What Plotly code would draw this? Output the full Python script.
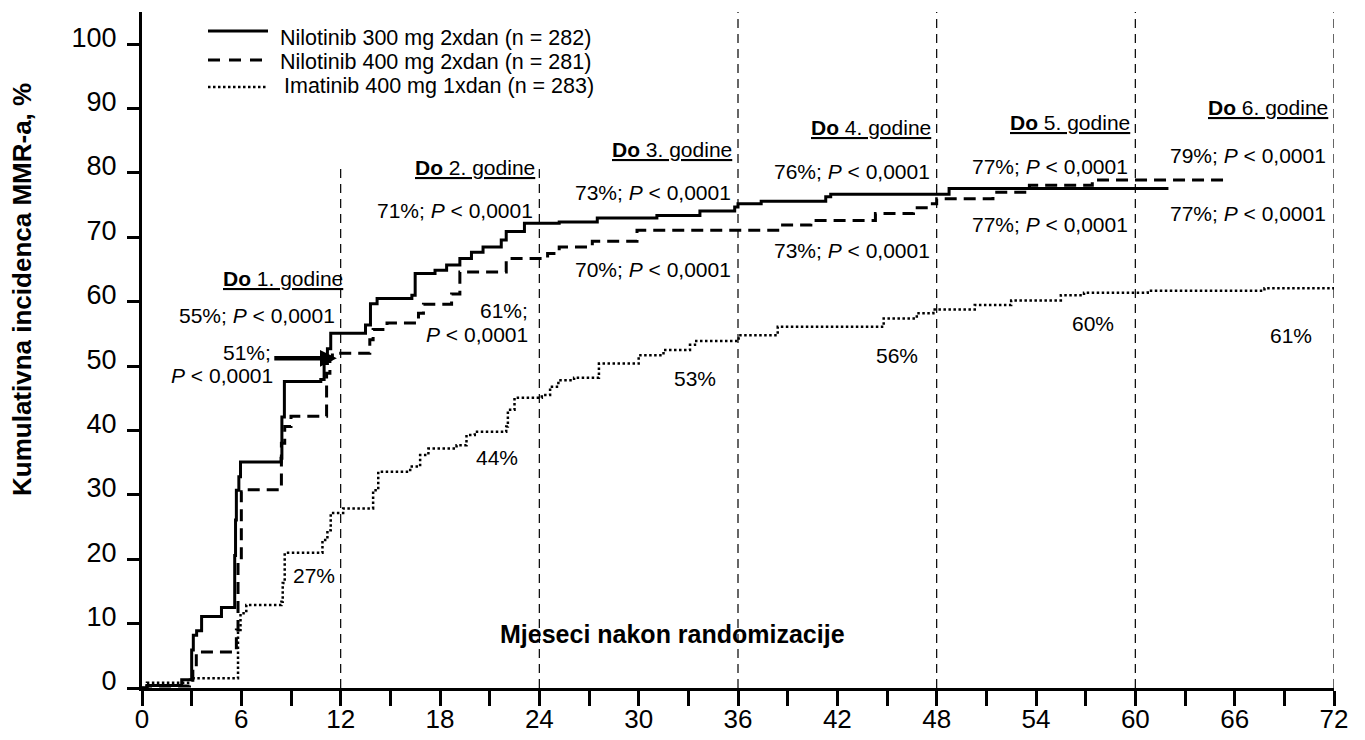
import plotly.graph_objects as go

# ---------------- data ----------------
nil300_month = [0, 0.3, 2.4, 3.0, 3.1, 3.3, 3.6, 4.8, 5.6, 5.65, 5.7, 5.85, 5.95, 8.4, 8.45,
                8.6, 10.8, 11.0, 11.2, 11.4, 13.5, 13.8, 14.2, 16.3, 16.5, 17.7, 18.4, 19.2,
                19.9, 20.6, 21.7, 22.0, 23.1, 25.2, 27.5, 31.1, 33.7, 35.8, 36.0, 37.4, 41.3,
                41.6, 48.75, 62.0]
nil300_value = [0, 0.4, 1.3, 5.9, 8.2, 8.9, 11.1, 12.5, 20.6, 26.1, 30.7, 32.8, 35.1, 35.7, 42.1,
                47.6, 47.9, 50.4, 52.7, 55.1, 56.4, 59.7, 60.5, 61.0, 64.4, 64.9, 65.7, 66.7,
                67.7, 68.5, 69.6, 70.9, 72.2, 72.4, 73.0, 73.4, 74.1, 74.7, 75.2, 75.6, 76.3,
                76.7, 77.6, 77.6]

nil400_month = [0, 0.3, 2.87, 3.07, 3.28, 5.7, 5.8, 6.0, 6.1, 8.42, 8.62, 9.0, 11.15, 11.35,
                11.5, 13.76, 13.96, 14.8, 16.7, 17.0, 18.7, 19.2, 22.0, 24.5, 25.2, 27.2, 29.9,
                38.4, 40.4, 44.3, 46.6, 47.6, 48.0, 51.4, 53.6, 57.4, 65.4]
nil400_value = [0, 0.3, 0.7, 3.3, 5.6, 9.0, 19.5, 30.5, 30.8, 38.0, 40.6, 42.2, 48.9, 51.4,
                52.0, 54.1, 55.7, 56.7, 58.2, 59.6, 61.2, 64.6, 66.7, 67.5, 68.5, 69.4, 71.1,
                71.9, 72.6, 73.7, 74.6, 75.2, 76.0, 77.0, 78.1, 78.9, 78.9]

ima400_month = [0, 0.3, 2.9, 5.8, 5.95, 6.3, 8.42, 8.5, 8.62, 10.9, 11.2, 11.4, 12.15, 13.96,
                14.27, 16.2, 16.8, 17.3, 19.0, 19.6, 20.1, 22.0, 22.1, 22.5, 24.15, 24.65,
                25.15, 26.1, 27.6, 30.0, 31.5, 33.1, 33.4, 36.04, 38.4, 44.8, 46.8, 47.8, 50.3,
                52.5, 55.5, 56.9, 60.75, 67.8, 72.0]
ima400_value = [0, 0.8, 1.5, 9.0, 11.6, 12.9, 13.4, 16.3, 21.0, 23.0, 24.5, 27.2, 27.9, 30.7,
                33.6, 34.4, 36.2, 37.2, 37.7, 39.3, 39.8, 40.6, 43.2, 45.1, 45.5, 46.8, 47.8,
                48.2, 50.4, 51.7, 52.5, 53.3, 53.9, 54.8, 56.1, 57.4, 58.2, 58.8, 59.5, 60.2,
                61.0, 61.4, 61.7, 62.1, 62.1]

series_names = ["Nilotinib 300 mg 2xdan (n = 282)",
                "Nilotinib 400 mg 2xdan (n = 281)",
                "Imatinib 400 mg 1xdan (n = 283)"]

year_months = [12, 24, 36, 48, 60, 72]
year_labels = ["1", "2", "3", "4", "5", "6"]
x_tick_vals = list(range(0, 73, 3))
x_tick_text = [str(v) if v % 6 == 0 else "" for v in x_tick_vals]
y_tick_vals = list(range(0, 101, 10))

# ---------------- layout geometry ----------------
W, H = 1365, 740
L, R, T, B = 142, 31, 12, 52
PW, PH = W - L - R, H - T - B
FONT = "Liberation Sans, Arial, sans-serif"


def px(x):
    return (x - L) / PW


def py(y):
    return (H - B - y) / PH


styles = [
    dict(color="black", width=3, dash="solid"),
    dict(color="black", width=3, dash="12px,7px"),
    dict(color="black", width=2.5, dash="2.5px,2.5px"),
]

fig = go.Figure()
for name, xs, ys, st in zip(series_names,
                            [nil300_month, nil400_month, ima400_month],
                            [nil300_value, nil400_value, ima400_value], styles):
    fig.add_trace(go.Scatter(x=xs, y=ys, mode="lines", name=name, line_shape="hv",
                             line=st, showlegend=False, hoverinfo="x+y+name"))

# vertical year lines
for m in year_months:
    top = 81.5 if m <= 24 else 105
    fig.add_shape(type="line", xref="x", yref="y", x0=m, x1=m, y0=0, y1=top,
                  line=dict(color="black", width=1.2, dash="9px,6px"), layer="below")

annotations = []


def txt(text, x, y, anchor="right", size=21, **kw):
    annotations.append(dict(text=text, xref="paper", yref="paper", x=px(x), y=py(y),
                            xanchor=anchor, yanchor="middle", showarrow=False,
                            font=dict(family=FONT, size=size, color="black"), **kw))


P = "<i>P</i> &lt; 0,0001"
# year headers
hdr_pos = [(345, 278), (537, 167), (734, 149), (933, 127), (1132, 122), (1330, 108)]
for lab, (x, y) in zip(year_labels, hdr_pos):
    txt(f"<u><b>Do</b> {lab}. godine</u>", x, y)

# nilotinib 300 values (upper) and nilotinib 400 (lower)
txt("55%; " + P, 337, 315)
txt("51%;", 273, 352)
txt(P, 275, 375)
txt("71%; " + P, 535, 210)
txt("61%;", 530, 310)
txt(P, 530, 334)
txt("73%; " + P, 733, 192)
txt("70%; " + P, 733, 269)
txt("76%; " + P, 932, 171)
txt("73%; " + P, 932, 251)
txt("77%; " + P, 1130, 166)
txt("77%; " + P, 1130, 224)
txt("79%; " + P, 1328, 155)
txt("77%; " + P, 1328, 213)
# imatinib values
for t, x, y in [("27%", 314, 575), ("44%", 497, 457), ("53%", 695, 378),
                ("56%", 897, 355), ("60%", 1093, 323), ("61%", 1291, 335)]:
    txt(t, x, y, anchor="center")

# axis titles
txt("<b>Mjeseci nakon randomizacije</b>", 672, 634, anchor="center", size=25)
annotations.append(dict(text="<b>Kumulativna incidenca MMR-a, %</b>", xref="paper", yref="paper",
                        x=px(22), y=py(290), xanchor="center", yanchor="middle",
                        textangle=-90, showarrow=False,
                        font=dict(family=FONT, size=26, color="black")))

# arrow
annotations.append(dict(text="", xref="x", yref="y", x=11.77, y=51.2, axref="x", ayref="y",
                        ax=7.9, ay=51.2, showarrow=True, arrowhead=2, arrowwidth=4.5,
                        arrowsize=0.75, arrowcolor="black"))

# legend (drawn manually)
leg_line_y = [31, 60, 87]
leg_text_y = [38, 62, 86]
leg_text_x = [278, 278, 282]
for name, st, ly, ty, tx in zip(series_names, styles, leg_line_y, leg_text_y, leg_text_x):
    lst = dict(st)
    if lst["dash"] == "12px,7px":
        lst["dash"] = "12px,9px"
    fig.add_shape(type="line", xref="paper", yref="paper", x0=px(208), x1=px(268),
                  y0=py(ly), y1=py(ly), line=lst)
    txt(name, tx, ty, anchor="left", size=21.5)

fig.update_layout(
    width=W, height=H, margin=dict(l=L, r=R, t=T, b=B, pad=0, autoexpand=False),
    paper_bgcolor="white", plot_bgcolor="white",
    font=dict(family=FONT, color="black"),
    annotations=annotations, showlegend=False,
    xaxis=dict(range=[0, 72], tickvals=x_tick_vals, ticktext=x_tick_text,
               showline=True, linewidth=3, linecolor="black", ticks="outside",
               ticklen=15, tickwidth=3, tickcolor="black", showgrid=False, zeroline=False,
               tickfont=dict(family=FONT, size=26), ticklabelstandoff=-9,
               automargin=False),
    yaxis=dict(range=[0, 105], tickvals=y_tick_vals, showline=True, linewidth=3,
               linecolor="black", ticks="outside", ticklen=12, tickwidth=3,
               tickcolor="black", showgrid=False, zeroline=False,
               tickfont=dict(family=FONT, size=27), ticklabelstandoff=5,
               ticklabelshift=-7, automargin=False),
)

fig.write_html("out.html")
